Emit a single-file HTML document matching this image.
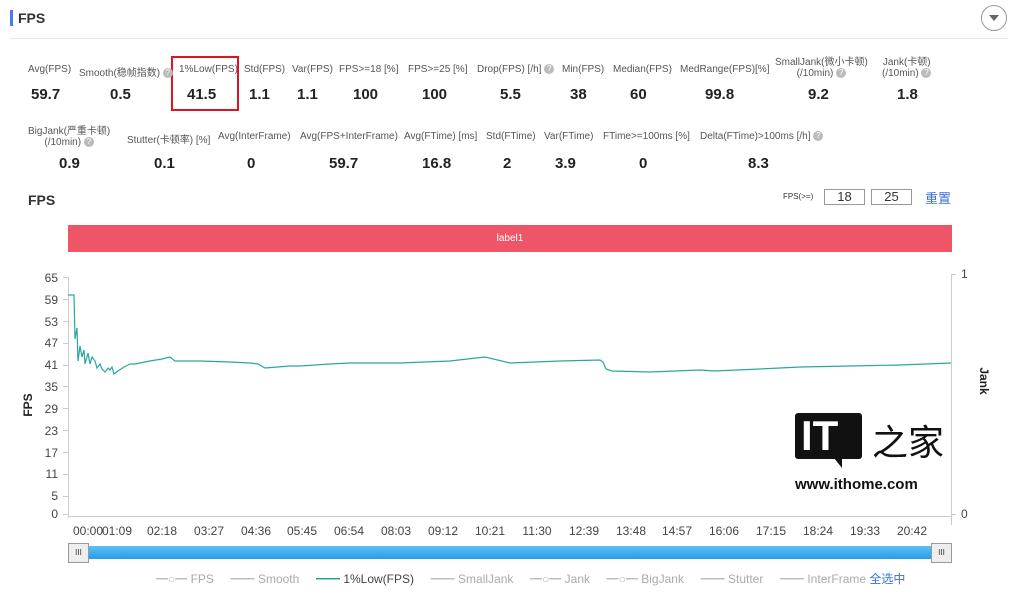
<!DOCTYPE html><html><head><meta charset="utf-8"><style>
body{margin:0;width:1020px;height:594px;background:#fff;font-family:"Liberation Sans","Noto Sans CJK SC",sans-serif;position:relative;overflow:hidden;color:#333}
.a{position:absolute;white-space:nowrap}
.l{font-size:10px;color:#555;text-align:center}
.v{font-size:15px;font-weight:bold;color:#222;text-align:center}
.q{display:inline-block;width:10px;height:10px;border-radius:5px;background:#bbb;color:#fff;font-size:8px;line-height:10px;text-align:center;vertical-align:middle}
</style></head><body>
<div class="a" style="left:10px;top:10px;width:3px;height:16px;background:#4a7bea"></div>
<div class="a" style="left:18px;top:10px;font-size:14px;font-weight:bold">FPS</div>
<div class="a" style="left:981px;top:5px;width:24px;height:24px;border:1px solid #999;border-radius:14px"></div>
<div class="a" style="left:989px;top:15px;width:0;height:0;border-left:5px solid transparent;border-right:5px solid transparent;border-top:6px solid #666"></div>
<div class="a" style="left:10px;top:38px;width:998px;height:1px;background:#e5e5e5"></div>
<div class="a" style="left:171px;top:56px;width:64px;height:51px;border:2px solid #e0141e"></div>

<div class="a l" style="left:28px;top:64px">Avg(FPS)</div><div class="a v" style="left:31px;top:86px">59.7</div>
<div class="a l" style="left:79px;top:64px">Smooth(稳帧指数) <span class="q">?</span></div><div class="a v" style="left:110px;top:86px">0.5</div>
<div class="a l" style="left:179px;top:64px">1%Low(FPS)</div><div class="a v" style="left:187px;top:86px">41.5</div>
<div class="a l" style="left:244px;top:64px">Std(FPS)</div><div class="a v" style="left:249px;top:86px">1.1</div>
<div class="a l" style="left:292px;top:64px">Var(FPS)</div><div class="a v" style="left:297px;top:86px">1.1</div>
<div class="a l" style="left:339px;top:64px">FPS>=18 [%]</div><div class="a v" style="left:353px;top:86px">100</div>
<div class="a l" style="left:408px;top:64px">FPS>=25 [%]</div><div class="a v" style="left:422px;top:86px">100</div>
<div class="a l" style="left:477px;top:64px">Drop(FPS) [/h] <span class="q">?</span></div><div class="a v" style="left:500px;top:86px">5.5</div>
<div class="a l" style="left:562px;top:64px">Min(FPS)</div><div class="a v" style="left:570px;top:86px">38</div>
<div class="a l" style="left:613px;top:64px">Median(FPS)</div><div class="a v" style="left:630px;top:86px">60</div>
<div class="a l" style="left:680px;top:64px">MedRange(FPS)[%]</div><div class="a v" style="left:705px;top:86px">99.8</div>
<div class="a l" style="left:775px;top:53px">SmallJank(微小卡顿)<br>(/10min) <span class="q">?</span></div><div class="a v" style="left:808px;top:86px">9.2</div>
<div class="a l" style="left:882px;top:53px">Jank(卡顿)<br>(/10min) <span class="q">?</span></div><div class="a v" style="left:897px;top:86px">1.8</div>

<div class="a l" style="left:28px;top:122px">BigJank(严重卡顿)<br>(/10min) <span class="q">?</span></div><div class="a v" style="left:59px;top:155px">0.9</div>
<div class="a l" style="left:127px;top:131px">Stutter(卡顿率) [%]</div><div class="a v" style="left:154px;top:155px">0.1</div>
<div class="a l" style="left:218px;top:131px">Avg(InterFrame)</div><div class="a v" style="left:247px;top:155px">0</div>
<div class="a l" style="left:300px;top:131px">Avg(FPS+InterFrame)</div><div class="a v" style="left:329px;top:155px">59.7</div>
<div class="a l" style="left:404px;top:131px">Avg(FTime) [ms]</div><div class="a v" style="left:422px;top:155px">16.8</div>
<div class="a l" style="left:486px;top:131px">Std(FTime)</div><div class="a v" style="left:503px;top:155px">2</div>
<div class="a l" style="left:544px;top:131px">Var(FTime)</div><div class="a v" style="left:555px;top:155px">3.9</div>
<div class="a l" style="left:603px;top:131px">FTime>=100ms [%]</div><div class="a v" style="left:639px;top:155px">0</div>
<div class="a l" style="left:700px;top:131px">Delta(FTime)>100ms [/h] <span class="q">?</span></div><div class="a v" style="left:748px;top:155px">8.3</div>

<div class="a" style="left:28px;top:192px;font-size:14px;font-weight:bold">FPS</div>
<div class="a" style="left:783px;top:192px;font-size:8px;color:#333">FPS(>=)</div>
<div class="a" style="left:824px;top:189px;width:39px;height:14px;border:1px solid #999;font-size:13px;text-align:center;line-height:14px">18</div>
<div class="a" style="left:871px;top:189px;width:39px;height:14px;border:1px solid #999;font-size:13px;text-align:center;line-height:14px">25</div>
<div class="a" style="left:925px;top:188px;font-size:13px;color:#3a6fd8">重置</div>
<div class="a" style="left:68px;top:225px;width:884px;height:27px;background:#ee5566;color:#fff;font-size:10px;text-align:center;line-height:27px">label1</div>

<svg class="a" style="left:0;top:0" width="1020" height="594">
<g stroke="#ccc" stroke-width="1" fill="none">
<line x1="68.5" y1="277" x2="68.5" y2="518"/><line x1="68" y1="516.5" x2="952" y2="516.5"/>
<line x1="951.5" y1="274" x2="951.5" y2="525"/>
<line x1="951" y1="274.5" x2="956" y2="274.5"/><line x1="951" y1="514.5" x2="956" y2="514.5"/>
</g>
<g font-size="12" fill="#444" text-anchor="end">
<text x="58" y="282">65</text><text x="58" y="304">59</text><text x="58" y="326">53</text><text x="58" y="347">47</text><text x="58" y="369">41</text><text x="58" y="391">35</text><text x="58" y="413">29</text><text x="58" y="435">23</text><text x="58" y="457">17</text><text x="58" y="478">11</text><text x="58" y="500">5</text><text x="58" y="518">0</text>
</g>
<g stroke="#ccc"><line x1="63" x2="68" y1="277.5" y2="277.5"/><line x1="63" x2="68" y1="299.5" y2="299.5"/><line x1="63" x2="68" y1="321.5" y2="321.5"/><line x1="63" x2="68" y1="343.5" y2="343.5"/><line x1="63" x2="68" y1="365.5" y2="365.5"/><line x1="63" x2="68" y1="386.5" y2="386.5"/><line x1="63" x2="68" y1="408.5" y2="408.5"/><line x1="63" x2="68" y1="430.5" y2="430.5"/><line x1="63" x2="68" y1="452.5" y2="452.5"/><line x1="63" x2="68" y1="474.5" y2="474.5"/><line x1="63" x2="68" y1="496.5" y2="496.5"/><line x1="63" x2="68" y1="514.5" y2="514.5"/></g>
<text x="961" y="278" font-size="12" fill="#444">1</text><text x="961" y="518" font-size="12" fill="#444">0</text>
<text transform="translate(32,405) rotate(-90)" font-size="12" font-weight="bold" fill="#222" text-anchor="middle">FPS</text>
<text transform="translate(980,381) rotate(90)" font-size="12" font-weight="bold" fill="#222" text-anchor="middle">Jank</text>
<g font-size="12" fill="#444" text-anchor="middle">
<text x="88" y="535">00:00</text><text x="117" y="535">01:09</text><text x="162" y="535">02:18</text><text x="209" y="535">03:27</text><text x="256" y="535">04:36</text><text x="302" y="535">05:45</text><text x="349" y="535">06:54</text><text x="396" y="535">08:03</text><text x="443" y="535">09:12</text><text x="490" y="535">10:21</text><text x="537" y="535">11:30</text><text x="584" y="535">12:39</text><text x="631" y="535">13:48</text><text x="677" y="535">14:57</text><text x="724" y="535">16:06</text><text x="771" y="535">17:15</text><text x="818" y="535">18:24</text><text x="865" y="535">19:33</text><text x="912" y="535">20:42</text>
</g>
<polyline fill="none" stroke="#2aa79b" stroke-width="1.2" points="68,295 74,295 75,339 77,328 78,361 80,346 82,357 84,350 85,364 88,353 90,364 92,357 95,361 97,368 100,364 102,369 105,372 108,368 110,370 112,367 114,374 118,371 124,367 130,364 135,364 140,363 150,361 162,359 170,357 175,361 200,361 230,362 250,363 258,364 265,368 290,366 300,366 330,364 350,363 400,363 450,361 485,357 510,363 560,361 600,360 603,362 606,369 612,371 650,372 700,370 714,371 760,369 800,367 850,366 900,365 951,363"/>
<polygon points="834,458 842,458 842,468" fill="#111"/>
</svg>

<div class="a" style="left:795px;top:413px;width:67px;height:46px;background:#111;border-radius:3px"></div>
<div class="a" style="left:801px;top:412px;font-size:42px;font-weight:bold;color:#fff;font-family:'Liberation Sans'">IT</div>
<div class="a" style="left:872px;top:414px;font-size:36px;color:#111">之家</div>
<div class="a" style="left:795px;top:476px;font-size:15px;font-weight:bold;color:#111">www.ithome.com</div>

<div class="a" style="left:70px;top:546px;width:880px;height:13px;background:linear-gradient(#5bc0f8,#2a9be8);border-radius:2px"></div>
<div class="a" style="left:68px;top:543px;width:19px;height:18px;background:#eee;border:1px solid #999;font-size:8px;text-align:center;line-height:18px">III</div>
<div class="a" style="left:931px;top:543px;width:19px;height:18px;background:#eee;border:1px solid #999;font-size:8px;text-align:center;line-height:18px">III</div>
<div class="a" style="left:156px;top:570px;font-size:12px;color:#aaa;word-spacing:0">
<span style="color:#bbb">━○━</span> FPS &nbsp;&nbsp;&nbsp; <span style="color:#bbb">━━</span> Smooth &nbsp;&nbsp;&nbsp; <span style="color:#1aa198">━━</span> <span style="color:#444">1%Low(FPS)</span> &nbsp;&nbsp;&nbsp; <span style="color:#bbb">━━</span> SmallJank &nbsp;&nbsp;&nbsp; <span style="color:#bbb">━○━</span> Jank &nbsp;&nbsp;&nbsp; <span style="color:#bbb">━○━</span> BigJank &nbsp;&nbsp;&nbsp; <span style="color:#bbb">━━</span> Stutter &nbsp;&nbsp;&nbsp; <span style="color:#bbb">━━</span> InterFrame <span style="color:#3a6fd8">全选中</span></div>
</body></html>
